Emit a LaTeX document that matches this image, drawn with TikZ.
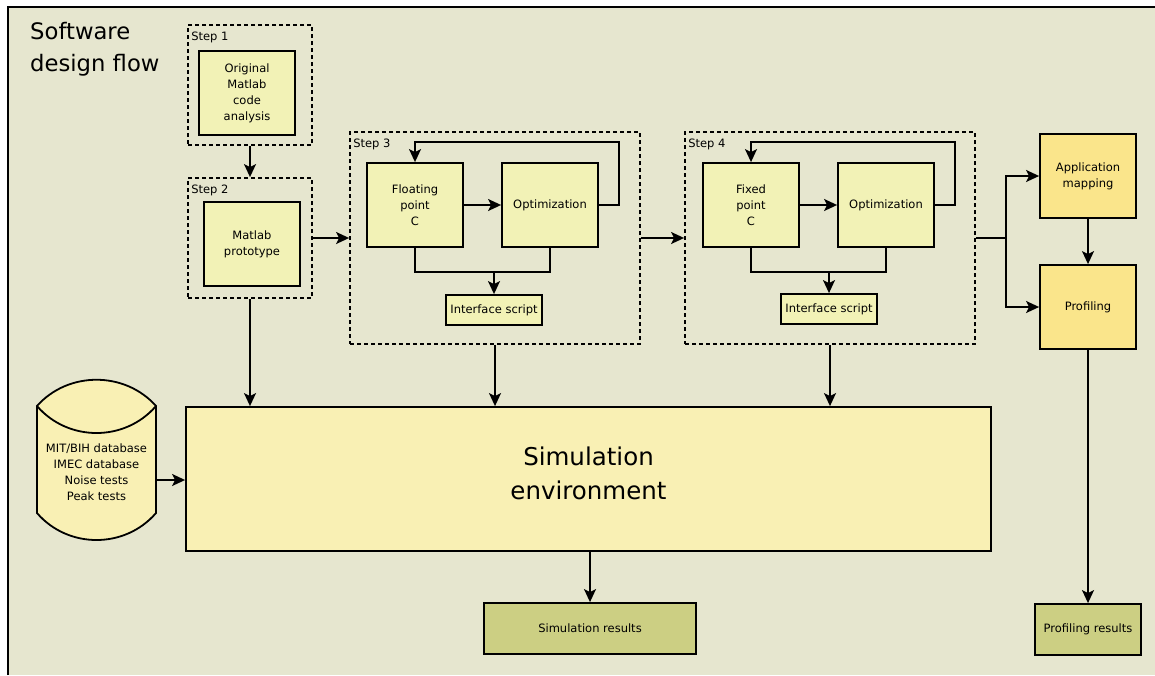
\documentclass[tikz,border=0pt]{standalone}
\usepackage{fontspec}
\setmainfont{DejaVu Sans}
\usetikzlibrary{arrows.meta}

\definecolor{bgcol}{HTML}{E6E6CF}
\definecolor{lightfill}{HTML}{F2F2B6}
\definecolor{simfill}{HTML}{F9F0B4}
\definecolor{mapfill}{HTML}{FAE58B}
\definecolor{resfill}{HTML}{CCCF83}

\tikzset{
  every node/.style={font=\fontsize{11.5}{16}\selectfont, align=center, inner sep=0pt},
  box/.style={draw=black, line width=1.8pt, fill=lightfill},
  stepframe/.style={draw=black, line width=1.8pt, dash pattern=on 4pt off 3pt},
  steplabel/.style={anchor=north west},
  arr/.style={line width=1.8pt, -{Stealth[length=13pt,width=12pt,inset=3pt]}},
  wire/.style={line width=1.8pt},
}

\begin{document}
\begin{tikzpicture}[x=1pt,y=-1pt]
\useasboundingbox (0,0) rectangle (1155,675);

% page background and frame (open to the right and bottom)
\fill[bgcol] (8,7) rectangle (1155,675);
\draw[line width=1.8pt] (8,675) -- (8,7) -- (1155,7);

% title
\node[anchor=north west, align=left, font=\fontsize{22.7}{32}\selectfont] (title) at (30,22) {Software\\design flow};

% Step 1
\node[stepframe, minimum width=124pt, minimum height=120pt] (s1) at (250,85) {};
\node[steplabel] (s1lab) at ([xshift=4pt,yshift=-8pt]s1.north west) {Step 1};
\node[box, minimum width=96pt, minimum height=84pt] (orig) at (247,93) {Original\\Matlab\\code\\analysis};

% Step 2
\node[stepframe, minimum width=124pt, minimum height=120pt] (s2) at (250,238) {};
\node[steplabel] (s2lab) at ([xshift=4pt,yshift=-8pt]s2.north west) {Step 2};
\node[box, minimum width=96pt, minimum height=84pt] (proto) at (252,244) {Matlab\\prototype};

% Step 3
\node[stepframe, minimum width=290pt, minimum height=212pt] (s3) at (495,238) {};
\node[steplabel] (s3lab) at ([xshift=4pt,yshift=-8pt]s3.north west) {Step 3};
\node[box, minimum width=96pt, minimum height=84pt] (fp) at (415,205) {Floating\\point\\C};
\node[box, minimum width=96pt, minimum height=84pt] (opt3) at (550,205) {Optimization};
\node[box, minimum width=96pt, minimum height=30pt] (if3) at (494,310) {Interface script};

% Step 4
\node[stepframe, minimum width=290pt, minimum height=212pt] (s4) at (830,238) {};
\node[steplabel] (s4lab) at ([xshift=4pt,yshift=-8pt]s4.north west) {Step 4};
\node[box, minimum width=96pt, minimum height=84pt] (fx) at (751,205) {Fixed\\point\\C};
\node[box, minimum width=96pt, minimum height=84pt] (opt4) at (886,205) {Optimization};
\node[box, minimum width=96pt, minimum height=30pt] (if4) at (829,309) {Interface script};

% mapping and profiling
\node[box, fill=mapfill, minimum width=96pt, minimum height=84pt] (app) at (1088,176) {Application\\mapping};
\node[box, fill=mapfill, minimum width=96pt, minimum height=84pt] (prof) at (1088,307) {Profiling};
\node[box, fill=resfill, minimum width=106pt, minimum height=51pt] (profres) at (1088,629.5) {Profiling results};

% simulation
\node[box, fill=simfill, minimum width=805pt, minimum height=144pt] (sim) at (588.5,479) {};
\node[font=\fontsize{24.5}{34}\selectfont] (simtxt) at ([yshift=5.5pt]sim.center) {Simulation\\environment};
\node[box, fill=resfill, minimum width=212pt, minimum height=51pt] (simres) at (590,628.5) {Simulation results};

% test database
\draw[line width=1.8pt, fill=simfill]
  (37,406) .. controls (68,371) and (125,371) .. (156,406)
  -- (156,513) .. controls (125,549) and (68,549) .. (37,513) -- cycle;
\draw[line width=1.8pt] (37,406) .. controls (68,442) and (125,442) .. (156,406);
\node (db) at (96.5,472) {MIT/BIH database\\IMEC database\\Noise tests\\Peak tests};
\coordinate (dbout) at (156,480);

% flow between steps
\draw[arr] (s1.south) -- (s2.north);
\draw[arr] (s2.east) -- (s3.west);
\draw[arr] (s3.east) -- (s4.west);

% step 3 internals
\draw[arr] (fp.east) -- (opt3.west);
\draw[arr] (opt3.east) -- ++(20,0) |- ([yshift=20pt]fp.north) -- (fp.north);
\draw[wire] (fp.south) -- ++(0,24) -| (opt3.south);
\draw[arr] ([yshift=-24pt]fp.south -| if3.north) -- (if3.north);

% step 4 internals
\draw[arr] (fx.east) -- (opt4.west);
\draw[arr] (opt4.east) -- ++(20,0) |- ([yshift=20pt]fx.north) -- (fx.north);
\draw[wire] (fx.south) -- ++(0,24) -| (opt4.south);
\draw[arr] ([yshift=-24pt]fx.south -| if4.north) -- (if4.north);

% branch to mapping and profiling
\coordinate (split) at (1006,238);
\draw[wire] (s4.east) -- (split);
\draw[arr] (split) |- (app.west);
\draw[arr] (split) |- (prof.west);
\draw[arr] (app.south) -- (prof.north);
\draw[arr] (prof.south) -- (profres.north);

% into and out of the simulation environment
\draw[arr] (s2.south) -- (s2.south |- sim.north);
\draw[arr] (s3.south) -- (s3.south |- sim.north);
\draw[arr] (s4.south) -- (s4.south |- sim.north);
\draw[arr] (dbout) -- (dbout -| sim.west);
\draw[arr] (sim.south -| simres.north) -- (simres.north);
\end{tikzpicture}
\end{document}
